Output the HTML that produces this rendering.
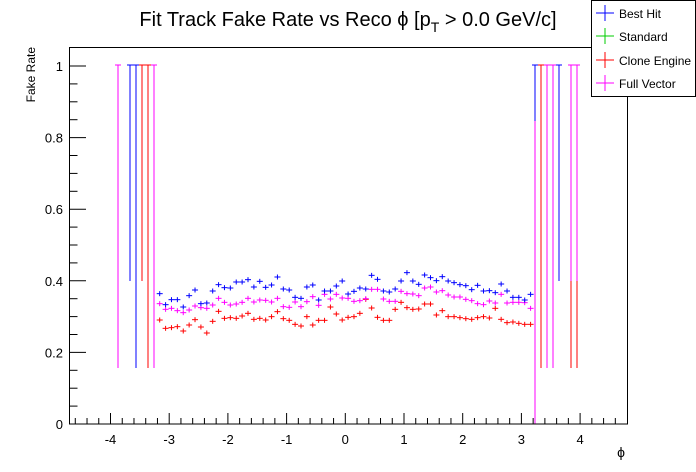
<!DOCTYPE html>
<html><head><meta charset="utf-8"><style>
html,body{margin:0;padding:0;background:#fff;}
svg{display:block;font-family:"Liberation Sans",sans-serif;}
</style></head><body>
<svg id="s" width="696" height="472" xmlns="http://www.w3.org/2000/svg">
<rect width="696" height="472" fill="#fff"/>
<text x="348" y="26" font-size="20" text-anchor="middle">Fit Track Fake Rate vs Reco ϕ [p<tspan font-size="14" dy="6">T</tspan><tspan dy="-6"> &gt; 0.0 GeV/c]</tspan></text>
<text transform="translate(35,47) rotate(-90)" font-size="12" text-anchor="end">Fake Rate</text>
<text x="621" y="457" font-size="14" text-anchor="middle">ϕ</text>
<g id="g"></g>
<rect x="69.5" y="47.5" width="558" height="376.5" fill="none" stroke="#000" stroke-width="1"/>
<rect x="591.5" y="0.5" width="104" height="96" fill="#fff" stroke="#000"/>
<g font-size="12">
<line x1="596" y1="13" x2="614" y2="13" stroke="#00f"/><line x1="605" y1="5" x2="605" y2="21" stroke="#00f"/><text x="619" y="18">Best Hit</text>
<line x1="596" y1="36" x2="614" y2="36" stroke="#0c0"/><line x1="605" y1="28" x2="605" y2="44" stroke="#0c0"/><text x="619" y="41">Standard</text>
<line x1="596" y1="60" x2="614" y2="60" stroke="#f00"/><line x1="605" y1="52" x2="605" y2="68" stroke="#f00"/><text x="619" y="65">Clone Engine</text>
<line x1="596" y1="83" x2="614" y2="83" stroke="#f0f"/><line x1="605" y1="75" x2="605" y2="91" stroke="#f0f"/><text x="619" y="88">Full Vector</text>
</g>
</svg>
<script>
var g=document.getElementById('g'),h='';
function L(x1,y1,x2,y2,c,w){h+='<line x1="'+x1+'" y1="'+y1+'" x2="'+x2+'" y2="'+y2+'" stroke="'+c+'" stroke-width="'+(w||1)+'"/>';}
function T(x,y,t,a){h+='<text x="'+x+'" y="'+y+'" font-size="13" text-anchor="'+a+'">'+t+'</text>';}
var Y=function(v){return 424-358*v;}, X=function(p){return 345.3+58.7*p;};
for(var i=0;i<=20;i++){var v=i*0.05,y=Y(v);if(y<48)continue;L(69.5,y,i%4==0?86:77.5,y,'#000');}
for(var i=0;i<=5;i++){var v=i*0.2;T(63,Y(v)+5,i==0?'0':i==5?'1':v.toFixed(1),'end');}
for(var i=-23;i<=24;i++){var p=i*0.2,x=X(p);if(x<70||x>627)continue;L(x,424,x,i%5==0?413:418,'#000');}
for(var i=-4;i<=4;i++)T(X(i),444,i,'middle');
var B=[101,134,119,119,141,107,90,131,129,93,74,83,84,66,66,59,81,64,82,75,51,87,90,112,115,81,75,120,93,93,78,63,102,94,84,87,46,58,93,96,87,63,38,63,73,45,53,62,50,63,68,74,77,89,76,93,92,98,72,93,112,112,120,103];
var M=[131,148,145,152,158,150,138,143,145,135,115,127,135,132,127,115,126,120,121,126,115,140,142,126,140,125,110,136,103,117,103,114,115,124,122,116,88,88,117,124,124,94,101,102,107,84,81,96,92,105,111,111,118,122,131,134,123,129,103,129,127,127,128,145];
var R=[180,205,203,200,213,195,179,201,219,184,154,175,173,175,168,160,178,175,180,170,155,176,181,193,198,170,195,181,181,141,162,180,172,170,160,118,144,172,181,181,148,127,143,148,147,132,132,165,152,170,170,173,176,178,173,170,174,145,178,188,186,190,193,193];
function S(a,c){for(var k=0;k<64;k++){var x=159.7+k*5.887,y=260+a[k]/3;L(x-3,y,x+3,y,c);L(x,y-2.5,x,y+2.5,c);}}
S(R,'#f00');S(M,'#f0f');S(B,'#00f');
var ty=65;
function E(x,c,b){L(x-3,ty,x+3,ty,c);L(x,ty,x,b,c);}
E(118,'#f0f',368);E(130,'#00f',281);E(136,'#00f',368);E(142,'#f00',281);E(148,'#f00',368);E(154,'#f0f',368);
E(535,'#00f',121);L(535,121,535,424,'#f0f');
E(541,'#f00',368);E(547,'#f0f',368);E(553,'#f0f',368);E(559,'#00f',281);
E(571,'#f0f',281);L(571,281,571,368,'#f00');E(577,'#f0f',281);L(577,281,577,368,'#f00');
g.innerHTML=h;
</script>
</body></html>
